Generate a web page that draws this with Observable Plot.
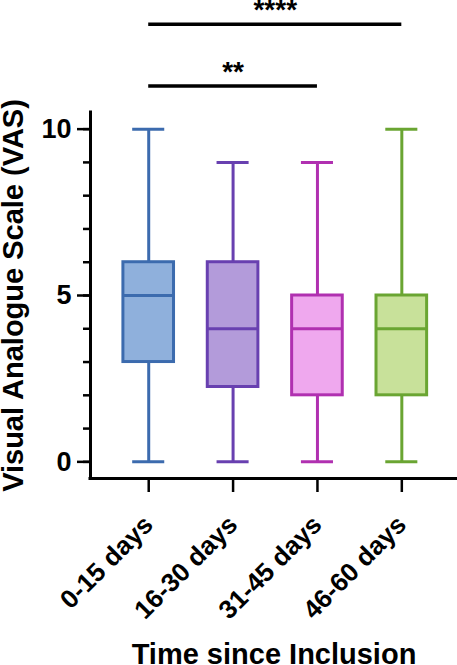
<!DOCTYPE html>
<html>
<head>
<meta charset="utf-8">
<script src="https://cdn.jsdelivr.net/npm/d3@7"></script>
<script src="https://cdn.jsdelivr.net/npm/@observablehq/plot@0.6"></script>
<style>
  html, body { margin: 0; padding: 0; background: #fff; }
</style>
</head>
<body>
<div id="chart"></div>
<script>
// Pain scores (VAS) per period since inclusion: box-and-whisker summaries
const categories   = ["0-15 days", "16-30 days", "31-45 days", "46-60 days"];
const minValues    = [0, 0, 0, 0];
const q1Values     = [3, 2.25, 2, 2];
const medianValues = [5, 4, 4, 4];
const q3Values     = [6, 6, 5, 5];
const maxValues    = [10, 9, 9, 10];

const strokeColors = ["#3C6BAE", "#6840B0", "#B030B0", "#6AA532"];
const fillColors   = ["#8FB0DC", "#B39BDA", "#EFA8EE", "#C8E19A"];

// Pairwise comparisons (group indices) and their significance marks
const comparisonFrom   = [0, 0];
const comparisonTo     = [2, 3];
const comparisonLabels = ["**", "****"];
const comparisonLevels = [11.3, 13.15];

const yMajorTicks = [0, 5, 10];
const yMinorTicks = d3.range(0, 11);

const groups = categories.map((name, i) => ({
  i, name,
  min: minValues[i], q1: q1Values[i], median: medianValues[i],
  q3: q3Values[i], max: maxValues[i],
  stroke: strokeColors[i], fill: fillColors[i]
}));

const comparisons = comparisonLabels.map((label, k) => ({
  from: comparisonFrom[k], to: comparisonTo[k], label,
  level: comparisonLevels[k],
  mid: (comparisonFrom[k] + comparisonTo[k]) / 2
}));

const xDomain = [-0.69, 3.66];
const boxHalf = 0.3;
const capHalf = 0.19;
const font = "'Liberation Sans', Arial, Helvetica, sans-serif";

const chart = Plot.plot({
  width: 457,
  height: 665,
  marginLeft: 90,
  marginRight: 0,
  marginTop: 112,
  marginBottom: 187,
  style: { fontFamily: font, background: "#fff", overflow: "visible", color: "#000" },
  x: { type: "linear", domain: xDomain },
  y: { domain: [-0.5, 10.5] },
  color: { type: "identity" },
  marks: [
    // whiskers and caps
    Plot.ruleX(groups, { x: "i", y1: "min", y2: "max", stroke: "stroke", strokeWidth: 3 }),
    Plot.ruleY(groups, { y: "min", x1: d => d.i - capHalf, x2: d => d.i + capHalf, stroke: "stroke", strokeWidth: 3 }),
    Plot.ruleY(groups, { y: "max", x1: d => d.i - capHalf, x2: d => d.i + capHalf, stroke: "stroke", strokeWidth: 3 }),
    // interquartile boxes and medians
    Plot.rect(groups, { x1: d => d.i - boxHalf, x2: d => d.i + boxHalf, y1: "q1", y2: "q3", fill: "fill", stroke: "stroke", strokeWidth: 3 }),
    Plot.ruleY(groups, { y: "median", x1: d => d.i - boxHalf, x2: d => d.i + boxHalf, stroke: "stroke", strokeWidth: 3 }),

    // axis lines
    Plot.ruleX([xDomain[0]], { stroke: "#000", strokeWidth: 3, strokeLinecap: "square" }),
    Plot.ruleY([-0.5], { stroke: "#000", strokeWidth: 3, strokeLinecap: "square" }),

    // y axis: minor ticks, major ticks with labels, title
    Plot.axisY(yMinorTicks, { tickSize: 7, tickFormat: () => "", label: null, strokeWidth: 2.5 }),
    Plot.axisY(yMajorTicks, {
      tickSize: 13, tickPadding: 6, fontSize: 27, fontWeight: "bold",
      label: null, strokeWidth: 2.5
    }),
    Plot.axisY({
      ticks: [], label: "Visual Analogue Scale (VAS)", labelAnchor: "center",
      labelArrow: "none", labelOffset: 88, fontSize: 29, fontWeight: "bold"
    }),

    // x axis: rotated category labels, title
    Plot.axisX(d3.range(categories.length), {
      tickFormat: i => categories[i], tickSize: 14, tickPadding: 28, tickRotate: -45,
      fontSize: 26, fontWeight: "bold", label: null, strokeWidth: 2.5
    }),
    Plot.axisX({
      ticks: [], label: "Time since Inclusion", labelAnchor: "center",
      labelArrow: "none", labelOffset: 185, fontSize: 29, fontWeight: "bold"
    }),

    // significance brackets
    Plot.ruleY(comparisons, { y: "level", x1: "from", x2: "to", stroke: "#000", strokeWidth: 3.5 }),
    Plot.text(comparisons, {
      x: "mid", y: "level", text: "label", lineAnchor: "bottom", dy: -5,
      fontSize: 28, fontWeight: "bold", fill: "#000"
    })
  ]
});

document.getElementById("chart").append(chart);
</script>
</body>
</html>
